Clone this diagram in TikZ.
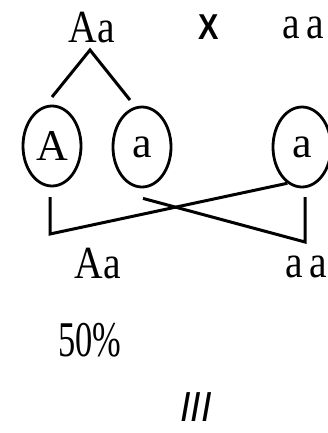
\documentclass[tikz,border=0pt]{standalone}
\usepackage{fontspec}
\setmainfont{Liberation Serif}
\setsansfont{Liberation Sans}
\usetikzlibrary{shapes.geometric, positioning, calc}

\begin{document}
\begin{tikzpicture}[
    x=1pt, y=-1pt,
    geno/.style={font=\fontsize{46}{50}\selectfont, inner sep=0pt, xscale=0.86},
    gamete/.style={draw, ellipse, line width=2.8pt, minimum width=58pt, minimum height=80pt, inner sep=0pt, font=\fontsize{44}{48}\selectfont},
    link/.style={line width=3pt}
]
\useasboundingbox (0,0) rectangle (328,433);
\clip (0,0) rectangle (328,433);

% Parents
\node[geno] (pAa) at (92,28) {Aa};
\node[font=\sffamily\bfseries\fontsize{36}{40}\selectfont, inner sep=0pt, xscale=0.85] (cross) at (209,27) {X};
\node[geno] (paa) at (303,28) {a\,a};

% Gametes
\node[gamete] (gA) at (52,146) {A};
\node[gamete] (ga1) at (142,147) {a};
\node[gamete] (ga2) at (302,147) {a};

% Offspring
\node[geno] (oAa) at (98,264) {Aa};
\node[geno] (oaa) at (306,267) {a\,a};
\node[geno, font=\fontsize{50}{54}\selectfont, xscale=0.8] (pct) at (90,340) {50\%};
\node[font=\sffamily\itshape\fontsize{42}{46}\selectfont, inner sep=0pt, xscale=0.9] (num) at (196,407) {III};

% Connections
\coordinate (apex) at (90,50);
\draw[link] (52,97) -- (apex) -- (130,100);

\coordinate (lc) at (50,234);
\coordinate (rc) at (305,242);
\draw[link] (50,197) -- (lc) -- (ga2.-112);
\draw[link] ($(ga1.south)+(1,10)$) -- (rc) -- (305,197);

\end{tikzpicture}
\end{document}
